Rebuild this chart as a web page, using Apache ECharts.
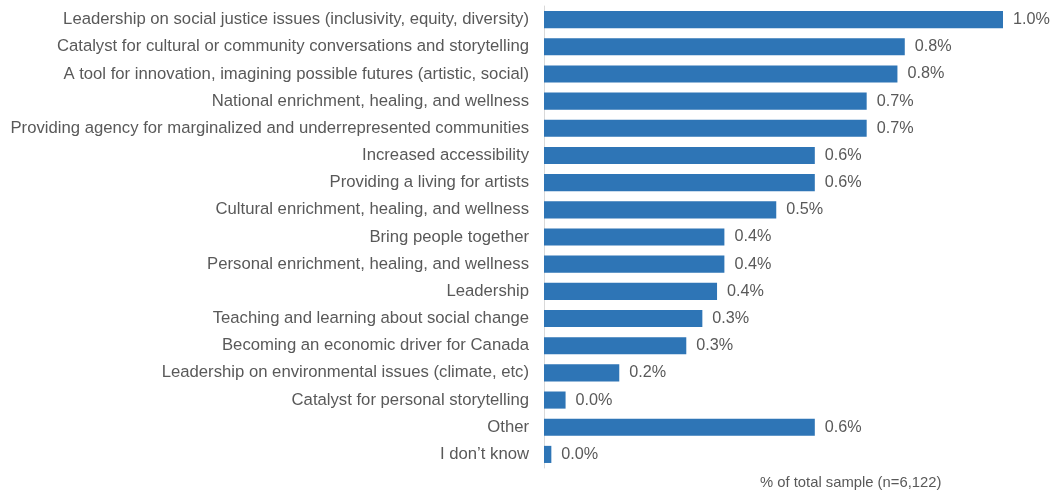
<!DOCTYPE html>
<html>
<head>
<meta charset="utf-8">
<style>
  html, body { margin: 0; padding: 0; background: #ffffff; }
  #chart { width: 1054px; height: 496px; }
</style>
<script src="https://cdn.jsdelivr.net/npm/echarts@6/dist/echarts.min.js"></script>
</head>
<body>
<div id="chart"></div>
<script>
// Response categories, listed top to bottom
const categories = [
  "Leadership on social justice issues (inclusivity, equity, diversity)",
  "Catalyst for cultural or community conversations and storytelling",
  "A tool for innovation, imagining possible futures (artistic, social)",
  "National enrichment, healing, and wellness",
  "Providing agency for marginalized and underrepresented communities",
  "Increased accessibility",
  "Providing a living for artists",
  "Cultural enrichment, healing, and wellness",
  "Bring people together",
  "Personal enrichment, healing, and wellness",
  "Leadership",
  "Teaching and learning about social change",
  "Becoming an economic driver for Canada",
  "Leadership on environmental issues (climate, etc)",
  "Catalyst for personal storytelling",
  "Other",
  "I don\u2019t know"
];

// Share of total sample, in percent (labels show one decimal)
const shares = [
  1.00, 0.786, 0.770, 0.703, 0.703, 0.590, 0.590, 0.506,
  0.393, 0.393, 0.377, 0.345, 0.310, 0.164, 0.047, 0.590, 0.016
];

const axisNote = "% of total sample (n=6,122)";

const textColor = "#595959";
const fontFamily = "'Liberation Sans', Arial, sans-serif";

const chart = echarts.init(document.getElementById("chart"), null, { renderer: "canvas" });

chart.setOption({
  animation: false,
  backgroundColor: "#ffffff",
  grid: { left: 544, right: 51, top: 6, height: 462, containLabel: false },
  xAxis: {
    type: "value",
    min: 0,
    max: 1.0,
    show: false
  },
  yAxis: {
    type: "category",
    data: categories,
    inverse: true,
    axisLine: { show: true, lineStyle: { color: "#d9d9d9", width: 1 } },
    axisTick: { show: false },
    axisLabel: {
      color: textColor,
      fontSize: 16.7,
      fontFamily: fontFamily,
      margin: 15
    }
  },
  series: [{
    type: "bar",
    data: shares,
    barCategoryGap: "37%",
    itemStyle: { color: "#2E75B6" },
    label: {
      show: true,
      position: "right",
      distance: 10,
      color: textColor,
      fontSize: 16.2,
      fontFamily: fontFamily,
      formatter: p => p.value.toFixed(1) + "%"
    }
  }],
  graphic: [{
    type: "text",
    left: 760,
    top: 475,
    style: {
      text: axisNote,
      fill: textColor,
      fontSize: 14.8,
      fontFamily: fontFamily
    }
  }]
});
</script>
</body>
</html>
